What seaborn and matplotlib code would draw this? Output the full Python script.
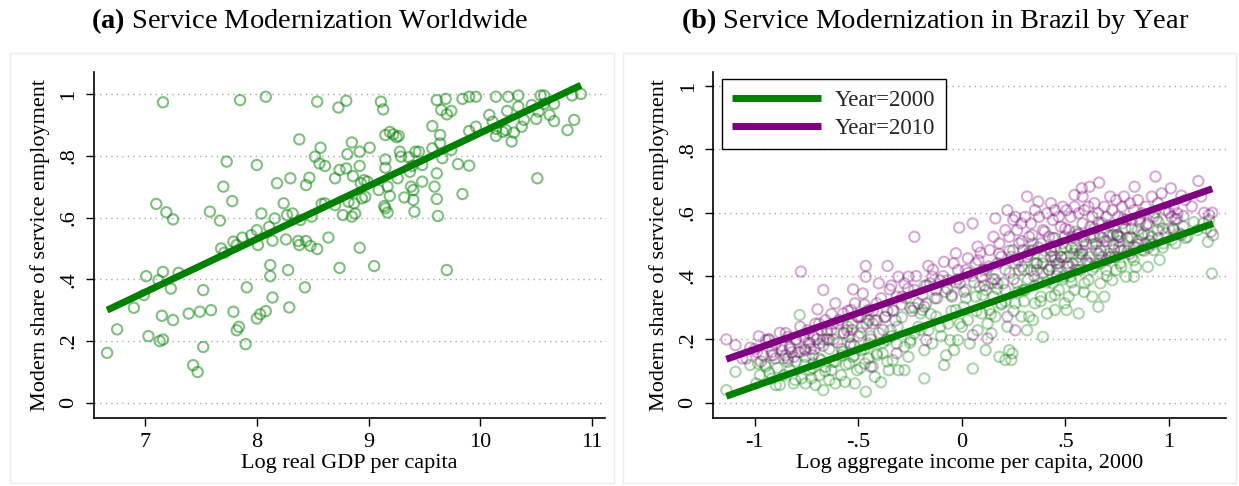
import matplotlib
matplotlib.use("Agg")
import numpy as np
import pandas as pd
import seaborn as sns
import matplotlib.pyplot as plt
from matplotlib.patches import Rectangle

# ---------------- data: panel (a) ----------------
gdp_x = [7.16, 7.85, 8.08, 8.54, 8.73, 8.80, 9.11, 9.13, 9.61, 9.69, 9.65, 9.70, 9.74, 9.84, 9.90, 9.96,
         10.14, 10.25, 10.34, 10.24, 10.34, 10.46, 10.54, 10.57, 10.57, 10.52, 10.62, 10.66, 10.66, 10.82,
         10.90, 10.84, 10.78, 10.50, 10.08, 10.11, 10.14, 10.14, 10.20, 10.23, 10.30, 10.28, 10.37, 10.39,
         10.51, 9.90, 9.96, 9.57, 9.64, 9.57, 9.64, 9.66, 9.74, 9.80, 9.90, 9.61, 9.59, 9.61, 9.62, 9.84,
         9.70, 9.22, 9.15, 9.19, 9.25, 9.27, 9.28, 9.29, 9.36, 9.42, 9.45, 9.39, 9.48, 9.37, 9.48, 9.38,
         9.40, 9.32, 9.40, 9.41, 9.26, 9.15, 9.15, 9.09, 9.17, 9.19, 9.14, 9.15, 9.17, 9.01, 8.92, 8.85,
         8.81, 8.92, 8.80, 8.74, 8.70, 8.86, 8.93, 8.96, 8.99, 8.94, 8.97, 8.87, 8.82, 8.88, 8.85, 8.77,
         8.70, 8.92, 9.05, 8.74, 8.57, 8.52, 8.56, 8.61, 8.38, 8.47, 8.44, 8.30, 8.18, 8.00, 7.73, 7.70,
         7.78, 7.58, 7.67, 7.10, 7.19, 7.25, 8.04, 8.24, 8.27, 8.32, 8.39, 8.49, 8.58, 8.61, 8.16, 8.11,
         8.00, 7.95, 7.87, 7.79, 7.82, 7.68, 7.71, 8.01, 8.14, 8.26, 8.37, 8.38, 8.44, 8.48, 8.54, 8.64,
         8.12, 8.12, 8.28, 8.14, 8.43, 7.91, 8.08, 8.29, 8.03, 8.00, 7.84, 7.82, 7.79, 7.90, 7.59, 7.49,
         7.39, 7.52, 7.52, 7.43, 7.47, 7.30, 7.23, 7.16, 7.12, 7.01, 6.99, 6.90, 7.15, 7.25, 7.03, 7.13,
         7.16, 6.75, 6.66]
gdp_share = [0.973, 0.980, 0.991, 0.975, 0.956, 0.978, 0.975, 0.950, 0.980, 0.984, 0.948, 0.934, 0.945,
             0.984, 0.991, 0.991, 0.991, 0.991, 0.995, 0.945, 0.959, 0.964, 0.995, 0.995, 0.968, 0.943,
             0.932, 0.968, 0.912, 0.995, 1.000, 0.916, 0.883, 0.919, 0.932, 0.910, 0.887, 0.864, 0.877,
             0.883, 0.875, 0.846, 0.894, 0.916, 0.727, 0.880, 0.894, 0.896, 0.867, 0.824, 0.840, 0.792,
             0.819, 0.773, 0.768, 0.743, 0.700, 0.660, 0.605, 0.676, 0.430, 0.869, 0.867, 0.877, 0.860,
             0.864, 0.813, 0.797, 0.795, 0.813, 0.813, 0.767, 0.770, 0.748, 0.716, 0.700, 0.689, 0.665,
             0.657, 0.619, 0.727, 0.788, 0.761, 0.689, 0.700, 0.670, 0.637, 0.630, 0.616, 0.826, 0.813,
             0.843, 0.805, 0.767, 0.759, 0.754, 0.727, 0.734, 0.711, 0.721, 0.716, 0.662, 0.667, 0.646,
             0.651, 0.613, 0.603, 0.608, 0.640, 0.502, 0.443, 0.437, 0.826, 0.797, 0.775, 0.767, 0.853,
             0.729, 0.705, 0.727, 0.711, 0.770, 0.781, 0.700, 0.653, 0.619, 0.590, 0.644, 0.617, 0.594,
             0.613, 0.646, 0.608, 0.613, 0.592, 0.603, 0.644, 0.646, 0.597, 0.570, 0.559, 0.543, 0.535,
             0.522, 0.511, 0.500, 0.486, 0.511, 0.525, 0.529, 0.524, 0.511, 0.524, 0.508, 0.498, 0.535,
             0.446, 0.410, 0.430, 0.341, 0.374, 0.374, 0.297, 0.309, 0.287, 0.273, 0.246, 0.235, 0.295,
             0.190, 0.300, 0.295, 0.289, 0.365, 0.181, 0.122, 0.100, 0.421, 0.370, 0.424, 0.397, 0.410,
             0.349, 0.308, 0.282, 0.268, 0.216, 0.200, 0.205, 0.238, 0.162]

# ---------------- data: panel (b) ----------------
inc_2000 = [-1.137, -1.093, -1.022, -0.984, -0.975, -0.993, -0.946, -0.917, -0.898, -0.930,
            -0.879, -0.860, -0.831, -0.812, -0.840, -0.805, -0.783, -0.774, -0.755, -0.735,
            -0.716, -0.755, -0.707, -0.726, -0.688, -0.669, -0.659, -0.640, -0.621, -0.611,
            -0.678, -0.630, -0.583, -0.573, -0.564, -0.544, -0.525, -0.516, -0.506, -0.535,
            -0.487, -0.464, -0.468, -0.449, -0.430, -0.411, -0.420, -0.390, -0.382, -0.363,
            -0.334, -0.315, -0.306, -0.353, -0.344, -0.277, -0.277, -0.248, -0.229, -0.210,
            -0.258, -0.200, -0.181, -0.181, -0.162, -0.143, -0.124, -0.105, -0.172, -0.191,
            -0.086, -0.076, -0.057, -0.038, -0.029, -0.019, -0.010, -0.067, 0.010, 0.029,
            0.038, 0.053, 0.067, 0.076, 0.086, 0.096, 0.019, 0.115, 0.124, 0.134,
            0.143, 0.153, 0.162, 0.181, 0.191, 0.172, 0.115, 0.210, 0.220, 0.229,
            0.239, 0.244, 0.258, 0.267, 0.277, 0.287, 0.296, 0.210, 0.248, 0.315,
            0.325, 0.344, 0.353, 0.373, 0.392, 0.382, 0.334, 0.363, 0.306, 0.395,
            0.344, 0.411, 0.430, 0.439, 0.449, 0.458, 0.468, 0.478, 0.487, 0.497,
            0.420, 0.449, 0.487, 0.506, 0.516, 0.525, 0.544, 0.554, 0.564, 0.573,
            0.583, 0.592, 0.535, 0.506, 0.564, 0.611, 0.621, 0.630, 0.640, 0.649,
            0.659, 0.669, 0.678, 0.688, 0.697, 0.640, 0.707, 0.716, 0.726, 0.735,
            0.745, 0.755, 0.764, 0.783, 0.793, 0.774, 0.812, 0.821, 0.831, 0.840,
            0.850, 0.869, 0.888, 0.898, 0.831, 0.879, 0.917, 0.926, 0.946, 0.955,
            0.974, 0.984, 1.012, 1.022, 1.031, 1.051, 1.070, 1.089, 1.137, 1.165,
            1.188, 1.194, 1.207, 1.213,
            -0.95, -0.92, -0.89, -0.86, -0.83, -0.80, -0.78, -0.76, -0.74, -0.72,
            -0.71, -0.69, -0.67, -0.66, -0.64, -0.63, -0.61, -0.60, -0.58, -0.57,
            -0.56, -0.54, -0.53, -0.52, -0.50, -0.49, -0.48, -0.47, -0.46, -0.45,
            -0.44, -0.42, -0.41, -0.40, -0.38, -0.37, -0.36, -0.34, -0.33, -0.31,
            -0.29, -0.27, -0.25, -0.23, -0.20, -0.18, -0.15, -0.13, -0.10, -0.08,
            -0.05, -0.03, 0.00, 0.02, 0.05, 0.07, 0.10, 0.12, 0.14, 0.17, 0.19,
            0.21, 0.23, 0.25, 0.27, 0.29, 0.30, 0.32, 0.33, 0.35, 0.36,
            0.38, 0.39, 0.40, 0.41, 0.43, 0.44, 0.45, 0.46, 0.48, 0.49,
            0.50, 0.51, 0.53, 0.54, 0.55, 0.56, 0.58, 0.59, 0.60, 0.62,
            0.63, 0.65, 0.66, 0.67, 0.69, 0.70, 0.71, 0.73, 0.74, 0.76,
            0.77, 0.79, 0.80, 0.82, 0.83, 0.85, 0.86, 0.88, 0.90, 0.92, 0.94,
            0.97, 1.00, 1.04, 1.08, 1.12, 1.18,
            -0.65, -0.55, -0.45, -0.25, -0.05, 0.15, 0.35, 0.55, 0.75, 0.95]
share_2000 = [0.040, 0.098, 0.119, 0.124, 0.087, 0.061, 0.114, 0.077, 0.056, 0.095,
              0.056, 0.087, 0.103, 0.061, 0.129, 0.072, 0.277, 0.077, 0.061, 0.103,
              0.124, 0.145, 0.056, 0.077, 0.087, 0.040, 0.114, 0.072, 0.129, 0.061,
              0.135, 0.103, 0.087, 0.161, 0.066, 0.124, 0.145, 0.061, 0.103, 0.187,
              0.166, 0.035, 0.124, 0.187, 0.114, 0.156, 0.082, 0.065, 0.156, 0.198,
              0.135, 0.187, 0.103, 0.103, 0.229, 0.103, 0.177, 0.198, 0.219, 0.240,
              0.145, 0.282, 0.077, 0.166, 0.229, 0.187, 0.272, 0.240, 0.314, 0.293,
              0.119, 0.150, 0.198, 0.166, 0.293, 0.198, 0.250, 0.250, 0.303, 0.261,
              0.187, 0.108, 0.335, 0.229, 0.366, 0.282, 0.356, 0.166, 0.250, 0.293,
              0.219, 0.335, 0.272, 0.145, 0.314, 0.377, 0.356, 0.135, 0.240, 0.166,
              0.135, 0.156, 0.314, 0.377, 0.419, 0.272, 0.356, 0.356, 0.482, 0.229,
              0.272, 0.261, 0.314, 0.377, 0.208, 0.335, 0.419, 0.440, 0.356, 0.461,
              0.503, 0.282, 0.335, 0.377, 0.293, 0.440, 0.356, 0.482, 0.398, 0.314,
              0.419, 0.461, 0.503, 0.293, 0.335, 0.398, 0.356, 0.482, 0.282, 0.419,
              0.524, 0.377, 0.440, 0.461, 0.461, 0.387, 0.461, 0.335, 0.429, 0.503,
              0.303, 0.377, 0.461, 0.335, 0.419, 0.524, 0.524, 0.461, 0.387, 0.482,
              0.419, 0.524, 0.440, 0.482, 0.398, 0.566, 0.524, 0.461, 0.493, 0.429,
              0.545, 0.482, 0.503, 0.429, 0.398, 0.535, 0.524, 0.482, 0.545, 0.451,
              0.503, 0.535, 0.514, 0.545, 0.503, 0.535, 0.556, 0.524, 0.545, 0.566,
              0.508, 0.577, 0.408, 0.529,
              0.12, 0.15, 0.11, 0.14, 0.17, 0.13, 0.16, 0.12, 0.19, 0.11,
              0.17, 0.14, 0.20, 0.10, 0.17, 0.23, 0.13, 0.19, 0.15, 0.22,
              0.12, 0.18, 0.25, 0.15, 0.21, 0.11, 0.24, 0.17, 0.29, 0.14,
              0.21, 0.26, 0.15, 0.22, 0.19, 0.27, 0.13, 0.21, 0.29, 0.24,
              0.27, 0.33, 0.19, 0.30, 0.23, 0.37, 0.28, 0.33, 0.21, 0.35,
              0.29, 0.38, 0.24, 0.33, 0.40, 0.29, 0.34, 0.42, 0.28, 0.36, 0.31,
              0.32, 0.41, 0.29, 0.35, 0.43, 0.32, 0.39, 0.48, 0.37, 0.44,
              0.32, 0.41, 0.48, 0.38, 0.43, 0.52, 0.34, 0.42, 0.46, 0.39,
              0.49, 0.43, 0.38, 0.47, 0.54, 0.42, 0.48, 0.35, 0.45, 0.52,
              0.42, 0.48, 0.57, 0.44, 0.51, 0.40, 0.47, 0.53, 0.46, 0.51,
              0.43, 0.55, 0.48, 0.52, 0.45, 0.51, 0.57, 0.48, 0.53, 0.50, 0.58,
              0.49, 0.55, 0.58, 0.52, 0.57, 0.55,
              0.20, 0.24, 0.26, 0.30, 0.34, 0.39, 0.44, 0.49, 0.53, 0.57]

inc_2010 = [-1.137, -1.093, -1.022, -0.980, -0.990, -0.946, -0.917, -0.879, -0.934, -0.900,
            -0.869, -0.850, -0.831, -0.802, -0.810, -0.840, -0.777, -0.764, -0.745, -0.735,
            -0.716, -0.707, -0.755, -0.697, -0.669, -0.678, -0.659, -0.640, -0.621, -0.611,
            -0.650, -0.688, -0.592, -0.573, -0.554, -0.525, -0.516, -0.544, -0.506, -0.535,
            -0.464, -0.464, -0.478, -0.449, -0.430, -0.411, -0.487, -0.440, -0.401, -0.359,
            -0.348, -0.315, -0.306, -0.334, -0.372, -0.315, -0.277, -0.258, -0.229, -0.229,
            -0.210, -0.287, -0.181, -0.162, -0.153, -0.143, -0.124, -0.105, -0.172, -0.086,
            -0.067, -0.029, -0.019, -0.013, -0.048, -0.010, 0.029, 0.052, 0.053, 0.067,
            0.090, 0.076, 0.019, 0.096, 0.124, 0.153, 0.162, 0.134, 0.172, 0.181,
            0.191, 0.105, 0.143, 0.220, 0.210, 0.229, 0.248, 0.258, 0.267, 0.277,
            0.287, 0.239, 0.258, 0.220, 0.296, 0.258, 0.200, 0.315, 0.369, 0.306,
            0.334, 0.353, 0.373, 0.392, 0.325, 0.344, 0.382, 0.315, 0.363, 0.430,
            0.411, 0.439, 0.449, 0.468, 0.478, 0.487, 0.420, 0.449, 0.468, 0.497,
            0.430, 0.544, 0.579, 0.583, 0.506, 0.525, 0.544, 0.564, 0.583, 0.592,
            0.516, 0.535, 0.564, 0.617, 0.663, 0.611, 0.630, 0.640, 0.659, 0.678,
            0.688, 0.697, 0.621, 0.669, 0.716, 0.726, 0.745, 0.755, 0.774, 0.783,
            0.793, 0.735, 0.764, 0.834, 0.812, 0.831, 0.850, 0.869, 0.888, 0.898,
            0.821, 0.935, 0.917, 0.946, 0.965, 0.984, 0.926, 1.009, 1.022, 1.060,
            1.041, 1.079, 1.012, 1.142, 1.194, 1.209, 1.203, 1.156,
            -1.06, -1.00, -0.96, -0.93, -0.90, -0.87, -0.85, -0.82, -0.80, -0.78,
            -0.76, -0.74, -0.72, -0.70, -0.69, -0.67, -0.65, -0.63, -0.62, -0.60,
            -0.58, -0.57, -0.55, -0.53, -0.52, -0.50, -0.49, -0.47, -0.46, -0.44,
            -0.43, -0.41, -0.39, -0.38, -0.36, -0.34, -0.32,
            -0.29, -0.26, -0.24, -0.22, -0.19, -0.17, -0.14, -0.12, -0.09, -0.07,
            -0.04, -0.02, 0.01, 0.03, 0.06, 0.08, 0.11, 0.13, 0.16, 0.18,
            0.21, 0.23, 0.25, 0.27, 0.29, 0.30, 0.32, 0.34, 0.35, 0.37,
            0.39, 0.40, 0.42, 0.43, 0.45, 0.46, 0.48, 0.50, 0.51, 0.53,
            0.55, 0.56, 0.58, 0.59, 0.61, 0.63, 0.64, 0.66, 0.68, 0.70,
            0.71, 0.73, 0.75, 0.77, 0.78, 0.80, 0.82, 0.84, 0.86, 0.87,
            0.89, 0.91, 0.93,
            0.97, 1.00, 1.03, 1.07, 1.11, 1.17,
            0.45, 0.52, 0.57, 0.62, 0.67, 0.72, 0.76, 0.81, 0.85, 0.90,
            0.95, 1.02, 1.06, 0.60, 0.70,
            -1.04, -0.97, -0.91, -0.84, -0.79, -0.73]
share_2010 = [0.200, 0.182, 0.174, 0.210, 0.160, 0.198, 0.161, 0.221, 0.200, 0.185,
              0.166, 0.150, 0.177, 0.198, 0.145, 0.208, 0.414, 0.208, 0.229, 0.187,
              0.208, 0.250, 0.166, 0.295, 0.356, 0.229, 0.261, 0.198, 0.250, 0.314,
              0.219, 0.187, 0.261, 0.282, 0.229, 0.358, 0.314, 0.208, 0.272, 0.293,
              0.432, 0.398, 0.345, 0.293, 0.250, 0.314, 0.272, 0.114, 0.377, 0.432,
              0.358, 0.335, 0.398, 0.293, 0.272, 0.156, 0.377, 0.398, 0.524, 0.356,
              0.314, 0.335, 0.303, 0.432, 0.377, 0.398, 0.356, 0.387, 0.198, 0.445,
              0.387, 0.472, 0.419, 0.553, 0.335, 0.377, 0.456, 0.566, 0.214, 0.440,
              0.474, 0.493, 0.419, 0.398, 0.203, 0.524, 0.582, 0.482, 0.440, 0.503,
              0.461, 0.419, 0.377, 0.608, 0.545, 0.524, 0.577, 0.587, 0.545, 0.503,
              0.566, 0.461, 0.440, 0.272, 0.482, 0.229, 0.377, 0.651, 0.635, 0.587,
              0.566, 0.608, 0.587, 0.545, 0.524, 0.482, 0.503, 0.461, 0.419, 0.630,
              0.598, 0.577, 0.608, 0.587, 0.556, 0.619, 0.524, 0.493, 0.440, 0.524,
              0.461, 0.656, 0.677, 0.651, 0.608, 0.587, 0.619, 0.598, 0.566, 0.608,
              0.545, 0.524, 0.534, 0.682, 0.695, 0.619, 0.587, 0.630, 0.598, 0.566,
              0.619, 0.587, 0.556, 0.524, 0.651, 0.608, 0.640, 0.587, 0.619, 0.651,
              0.577, 0.556, 0.524, 0.682, 0.630, 0.608, 0.640, 0.598, 0.619, 0.566,
              0.577, 0.714, 0.651, 0.630, 0.661, 0.608, 0.587, 0.677, 0.619, 0.654,
              0.598, 0.640, 0.587, 0.700, 0.593, 0.600, 0.540, 0.651,
              0.14, 0.17, 0.15, 0.20, 0.14, 0.18, 0.22, 0.16, 0.20, 0.24,
              0.17, 0.22, 0.15, 0.20, 0.25, 0.18, 0.23, 0.28, 0.20, 0.25,
              0.17, 0.22, 0.29, 0.23, 0.18, 0.27, 0.22, 0.31, 0.25, 0.20,
              0.29, 0.26, 0.33, 0.23, 0.29, 0.37, 0.26,
              0.31, 0.36, 0.29, 0.40, 0.34, 0.37, 0.42, 0.33, 0.40, 0.36,
              0.44, 0.39, 0.35, 0.41, 0.38, 0.45, 0.37, 0.43, 0.39, 0.47,
              0.42, 0.48, 0.39, 0.45, 0.51, 0.42, 0.47, 0.53, 0.40, 0.49,
              0.44, 0.54, 0.42, 0.48, 0.52, 0.40, 0.46, 0.55, 0.44, 0.49,
              0.42, 0.53, 0.47, 0.51, 0.44, 0.50, 0.55, 0.47, 0.52, 0.45,
              0.56, 0.50, 0.53, 0.48, 0.58, 0.52, 0.55, 0.49, 0.58, 0.53,
              0.56, 0.51, 0.60,
              0.55, 0.60, 0.58, 0.59, 0.62, 0.60,
              0.45, 0.43, 0.47, 0.44, 0.48, 0.46, 0.49, 0.47, 0.50, 0.49,
              0.52, 0.55, 0.53, 0.50, 0.51,
              0.14, 0.13, 0.15, 0.14, 0.16, 0.17]

years = ["Year=2000", "Year=2010"]
year_colors = ["#008000", "#800080"]

a_xticks = [7, 8, 9, 10, 11]
a_xticklabels = ["7", "8", "9", "10", "11"]
b_xticks = [-1, -0.5, 0, 0.5, 1]
b_xticklabels = ["-1", "-.5", "0", ".5", "1"]
yticks = [0, 0.2, 0.4, 0.6, 0.8, 1]
yticklabels = ["0", ".2", ".4", ".6", ".8", "1"]

# ---------------- style ----------------
sns.set_theme(style="white")
plt.rcParams["font.family"] = ["Liberation Serif", "DejaVu Serif"]
plt.rcParams["mathtext.fontset"] = "custom"
plt.rcParams["mathtext.rm"] = "Liberation Serif"
plt.rcParams["mathtext.bf"] = "Liberation Serif:bold"

W, H = 1239, 486
fig = plt.figure(figsize=(W / 100, H / 100), dpi=100)

def px_axes(l, r, t, b):
    return fig.add_axes([l / W, 1 - b / H, (r - l) / W, (b - t) / H])

ax1 = px_axes(93.7, 605.5, 71.7, 417.7)
ax2 = px_axes(712.9, 1225.5, 71.7, 417.7)

def style(ax, xlim, ylim, xt, xtl, xlabel):
    ax.set_xlim(*xlim)
    ax.set_ylim(*ylim)
    ax.set_xticks(xt)
    ax.set_xticklabels(xtl)
    ax.set_yticks(yticks)
    ax.set_yticklabels(yticklabels, rotation=90, va="center")
    for s in ["top", "right"]:
        ax.spines[s].set_visible(False)
    for s in ["left", "bottom"]:
        ax.spines[s].set_color("black")
        ax.spines[s].set_linewidth(1.2)
    ax.tick_params(axis="both", which="major", bottom=True, left=True, direction="out",
                   length=6, width=1.0, color="black", labelsize=16, labelcolor="black", pad=5)
    ax.yaxis.grid(True, linestyle=(0, (1, 3)), color="#a8a8a8", linewidth=1.0)
    ax.xaxis.grid(False)
    ax.set_axisbelow(True)
    ax.set_xlabel(xlabel, fontsize=16, color="black")
    ax.set_ylabel("Modern share of service employment", fontsize=16, color="black")
    ax.xaxis.set_label_coords(0.5, -0.105)
    ax.yaxis.set_label_coords(-0.086, 0.5)

# panel (a)
sns.regplot(x=gdp_x, y=gdp_share, ax=ax1, ci=None, color="#008000",
            scatter_kws=dict(s=55, facecolors="none", edgecolors="#008000", linewidths=1.5,
                             alpha=0.5, zorder=2),
            line_kws=dict(lw=5, color="#008000", zorder=3, solid_capstyle="butt"))
style(ax1, (6.54, 11.12), (-0.048, 1.072), a_xticks, a_xticklabels, "Log real GDP per capita")

# panel (b)
for xs, ys, lab, col in [(inc_2000, share_2000, years[0], year_colors[0]),
                         (inc_2010, share_2010, years[1], year_colors[1])]:
    sns.regplot(x=xs, y=ys, ax=ax2, ci=None, color=col,
                scatter_kws=dict(s=55, facecolors="none", edgecolors=col, linewidths=1.5,
                                 alpha=0.33, zorder=2),
                line_kws=dict(lw=5, color=col, zorder=3, label=lab, solid_capstyle="butt"))
style(ax2, (-1.202, 1.273), (-0.047, 1.045), b_xticks, b_xticklabels,
      "Log aggregate income per capita, 2000")

leg = ax2.legend(loc="upper left", bbox_to_anchor=(721.6 / W, 1 - 79.3 / H),
                 bbox_transform=fig.transFigure, borderaxespad=0, frameon=True,
                 fancybox=False, framealpha=1, edgecolor="black", fontsize=16.5,
                 handlelength=3.9, handletextpad=0.6, borderpad=0.45, labelspacing=0.3)
leg.get_frame().set_linewidth(1.0)

# titles
fig.text(310 / W, 1 - 21 / H, r"$\mathbf{(a)}$ Service Modernization Worldwide",
         ha="center", va="center", fontsize=20.5, color="black")
fig.text(935 / W, 1 - 21 / H, r"$\mathbf{(b)}$ Service Modernization in Brazil by Year",
         ha="center", va="center", fontsize=20.5, color="black")

# faint panel frames
for x0, x1 in [(10, 614), (623, 1236)]:
    fig.patches.append(Rectangle((x0 / W, 3 / H), (x1 - x0) / W, (483 - 53) / H,
                                 transform=fig.transFigure, fill=False,
                                 edgecolor="#ececec", linewidth=1.0))

fig.savefig("out.png", dpi=100)
